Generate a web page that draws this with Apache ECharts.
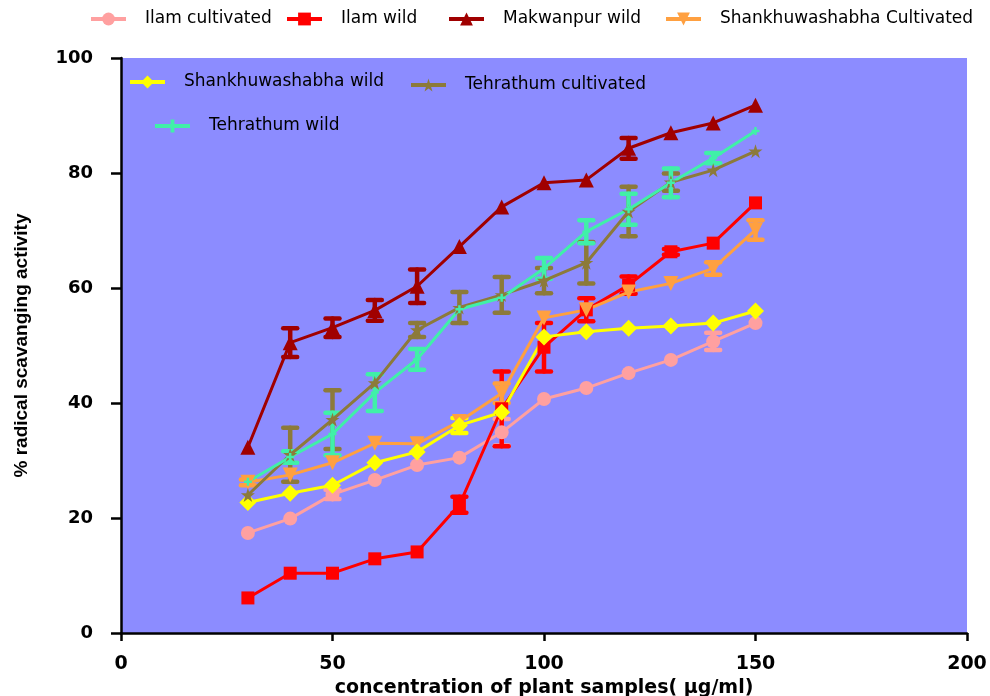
<!DOCTYPE html>
<html>
<head>
<meta charset="utf-8">
<script src="https://cdn.jsdelivr.net/npm/echarts@6/dist/echarts.min.js"></script>
<style>html,body{margin:0;padding:0;background:#fff}#c{width:990px;height:696px}</style>
</head>
<body>
<div id="c"></div>
<script>
// concentration (µg/ml)
const conc = [30, 40, 50, 60, 70, 80, 90, 100, 110, 120, 130, 140, 150];
// % radical scavenging activity
const ilamCult     = [17.4, 19.9, 24.1, 26.6, 29.2, 30.5, 34.9, 40.7, 42.6, 45.2, 47.5, 50.7, 53.9];
const ilamCultErr  = [0, 0, 0.8, 0, 0, 0, 2.3, 0, 0, 0, 0, 1.5, 0];
const ilamWild     = [6.1, 10.4, 10.4, 12.9, 14.1, 22.3, 39.0, 49.7, 56.2, 60.5, 66.3, 67.8, 74.8];
const ilamWildErr  = [0, 0, 0, 0, 0, 1.4, 6.5, 4.2, 2.0, 1.5, 0.5, 0, 0];
const makWild      = [32.3, 50.5, 53.1, 56.1, 60.3, 67.2, 74.1, 78.3, 78.8, 84.3, 87.0, 88.7, 91.8];
const makWildErr   = [0, 2.5, 1.6, 1.8, 2.9, 0, 0, 0, 0, 1.8, 0, 0, 0];
const shankCult    = [26.2, 27.5, 29.6, 33.0, 32.9, 36.8, 41.7, 54.8, 56.2, 59.3, 60.8, 63.4, 70.1];
const shankCultErr = [0.5, 0, 0, 0, 0, 0, 1.7, 0, 0, 0, 0, 1.1, 1.7];
const shankWild    = [22.7, 24.3, 25.7, 29.6, 31.5, 36.1, 38.4, 51.5, 52.4, 53.0, 53.4, 53.9, 56.0];
const shankWildErr = [0, 0, 0, 0, 0, 1.3, 0, 0, 0, 0, 0, 0, 0];
const tehCult      = [24.0, 31.0, 37.1, 43.5, 52.7, 56.6, 58.8, 61.3, 64.4, 73.3, 78.4, 80.5, 83.8];
const tehCultErr   = [0, 4.7, 5.1, 0, 1.2, 2.7, 3.1, 2.2, 3.6, 4.3, 1.5, 0, 0];
const tehWild      = [26.3, 30.6, 34.6, 41.8, 47.6, 56.3, 58.3, 63.4, 69.8, 73.7, 78.3, 82.6, 87.3];
const tehWildErr   = [0, 1.0, 3.7, 3.2, 1.8, 0, 0, 1.8, 2.0, 2.7, 2.5, 0.9, 0];

const xTicks = [0, 50, 100, 150, 200];
const yTicks = [0, 20, 40, 60, 80, 100];

const STAR = 'path://M50,0L61.8,35.4L100,35.4L69.1,57.3L80.9,92.7L50,70.8L19.1,92.7L30.9,57.3L0,35.4L38.2,35.4Z';
const PLUS = 'path://M35,0H65V35H100V65H65V100H35V65H0V35H35Z';

const defs = [
  {name: 'Ilam cultivated', vals: ilamCult, err: ilamCultErr, color: '#ffa0a0', symbol: 'circle', size: 14, rot: 0},
  {name: 'Ilam wild', vals: ilamWild, err: ilamWildErr, color: '#ff0000', symbol: 'rect', size: 13, rot: 0},
  {name: 'Makwanpur wild', vals: makWild, err: makWildErr, color: '#a00000', symbol: 'triangle', size: 15, rot: 0},
  {name: 'Shankhuwashabha Cultivated', vals: shankCult, err: shankCultErr, color: '#ffa040', symbol: 'triangle', size: 15, rot: 180},
  {name: 'Shankhuwashabha wild', vals: shankWild, err: shankWildErr, color: '#ffff00', symbol: 'diamond', size: 17, rot: 0},
  {name: 'Tehrathum cultivated', vals: tehCult, err: tehCultErr, color: '#8c7a3a', symbol: STAR, size: 14, rot: 0},
  {name: 'Tehrathum wild', vals: tehWild, err: tehWildErr, color: '#40f0a8', symbol: PLUS, size: 8, rot: 0}
];

const series = [];
defs.forEach(d => {
  const errData = [];
  conc.forEach((x, i) => { if (d.err[i] > 0) errData.push([x, d.vals[i], d.err[i]]); });
  series.push({
    type: 'custom',
    name: d.name + ' err',
    data: errData,
    encode: {x: 0, y: 1},
    silent: true,
    renderItem: function (params, api) {
      const x = api.value(0), y = api.value(1), e = api.value(2);
      const top = api.coord([x, y + e]);
      const bot = api.coord([x, y - e]);
      const hw = 7;
      const st = {stroke: d.color, lineWidth: 4.5, lineCap: 'round'};
      return {type: 'group', children: [
        {type: 'line', shape: {x1: top[0], y1: top[1], x2: bot[0], y2: bot[1]}, style: st},
        {type: 'line', shape: {x1: top[0] - hw, y1: top[1], x2: top[0] + hw, y2: top[1]}, style: st},
        {type: 'line', shape: {x1: bot[0] - hw, y1: bot[1], x2: bot[0] + hw, y2: bot[1]}, style: st}
      ]};
    }
  });
  series.push({
    type: 'line',
    name: d.name,
    data: conc.map((x, i) => [x, d.vals[i]]),
    symbol: d.symbol,
    symbolSize: d.size,
    symbolRotate: d.rot,
    showAllSymbol: true,
    lineStyle: {color: d.color, width: 3},
    itemStyle: {color: d.color, borderWidth: 0},
    emphasis: {disabled: true},
    animation: false
  });
});

const legendFont = {fontFamily: 'DejaVu Sans', fontSize: 17, color: '#000', lineHeight: 20, padding: [0, 0, 0, 14]};
function leg(name, left, cy) {
  return {data: [name], left: left, top: cy - 10, itemWidth: 35, itemHeight: 16,
    lineStyle: {width: 4}, textStyle: legendFont, selectedMode: false, padding: 0};
}

const chart = echarts.init(document.getElementById('c'), null, {renderer: 'canvas'});
chart.setOption({
  animation: false,
  backgroundColor: '#ffffff',
  legend: [
    leg('Ilam cultivated', 89, 19),
    leg('Ilam wild', 285, 19),
    leg('Makwanpur wild', 447, 19),
    leg('Shankhuwashabha Cultivated', 664, 19),
    leg('Shankhuwashabha wild', 128, 82),
    leg('Tehrathum cultivated', 409, 85),
    leg('Tehrathum wild', 153, 126)
  ],
  grid: {left: 121, right: 23, top: 58, bottom: 63, show: true, backgroundColor: '#8c8cff', borderWidth: 0,
    containLabel: false, outerBoundsMode: 'none'},
  xAxis: {
    type: 'value', min: xTicks[0], max: xTicks[xTicks.length - 1], interval: 50,
    name: 'concentration of plant samples( µg/ml)', nameLocation: 'middle', nameGap: 34,
    nameTextStyle: {fontFamily: 'DejaVu Sans', fontWeight: 'bold', fontSize: 19, color: '#000'},
    axisLine: {onZero: false, lineStyle: {color: '#000', width: 2.5}},
    axisTick: {show: true, length: 8, lineStyle: {color: '#000', width: 2.5}},
    axisLabel: {fontFamily: 'DejaVu Sans', fontWeight: 'bold', fontSize: 19, color: '#000', margin: 22},
    splitLine: {show: false}
  },
  yAxis: {
    type: 'value', min: yTicks[0], max: yTicks[yTicks.length - 1], interval: 20,
    name: '% radical scavanging activity', nameLocation: 'middle', nameGap: 90,
    nameTextStyle: {fontFamily: 'Liberation Sans', fontWeight: 'bold', fontSize: 19, color: '#000'},
    axisLine: {show: true, onZero: false, lineStyle: {color: '#000', width: 2.5}},
    axisTick: {show: true, length: 10, lineStyle: {color: '#000', width: 2.5}},
    axisLabel: {fontFamily: 'DejaVu Sans', fontWeight: 'bold', fontSize: 18, color: '#000', margin: 28},
    splitLine: {show: false}
  },
  series: series
});
</script>
</body>
</html>
